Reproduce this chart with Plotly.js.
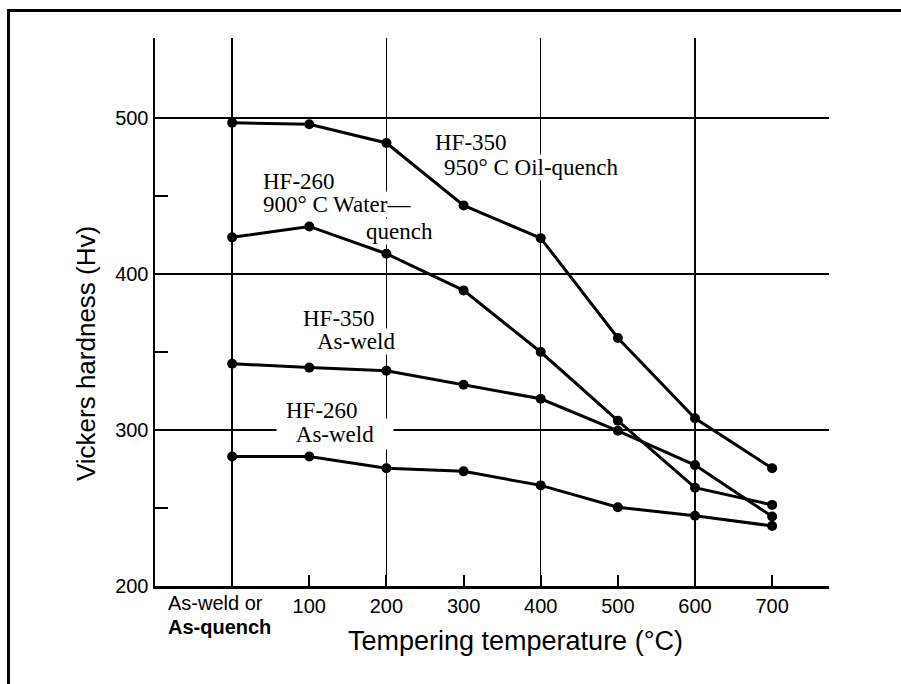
<!DOCTYPE html>
<html><head><meta charset="utf-8">
<script src="https://cdn.plot.ly/plotly-3.0.1.min.js"></script>
<style>
body{margin:0;background:#fff;overflow:hidden}
#chart{width:901px;height:684px}
#frame{position:absolute;left:7px;top:9px;width:1000px;height:1000px;border-top:3px solid #000;border-left:3px solid #000;pointer-events:none}
</style>
</head><body><div id="chart"></div><div id="frame"></div>
<script>
// Tempering temperature (°C); 0 = as-weld / as-quench
const temps = [0, 100, 200, 300, 400, 500, 600, 700];
const tickTemps = [100, 200, 300, 400, 500, 600, 700];
const tickLabels = ['100', '200', '300', '400', '500', '600', '700'];
const gridTemps = [0, 200, 400, 600];
const hvTicks = [200, 300, 400, 500];
const hvMinor = [250, 350, 450];

// Vickers hardness (Hv)
const hf350Oil   = [497, 496, 484, 444, 423, 359, 307.5, 275.5];
const hf260Water = [423.5, 430.5, 413, 389.5, 350, 306, 263, 252];
const hf350Weld  = [342.5, 340, 338, 329, 320, 299.5, 277.5, 244.5];
const hf260Weld  = [283, 283, 275.5, 273.5, 264.5, 250.5, 245, 238.5];

const seriesNames = ['HF-350 950°C Oil-quench', 'HF-260 900°C Water-quench', 'HF-350 As-weld', 'HF-260 As-weld'];
const seriesData = [hf350Oil, hf260Water, hf350Weld, hf260Weld];

const traces = seriesData.map((ys, i) => ({
  x: temps, y: ys, name: seriesNames[i], type: 'scatter', mode: 'lines+markers',
  line: {color: '#000', width: 3}, marker: {color: '#000', size: 10},
  cliponaxis: false, showlegend: false
}));

const serif = {family: 'Liberation Serif, Times New Roman, serif', size: 23, color: '#000'};
const sans = 'Liberation Sans, Arial, sans-serif';

function lbl(text, x, y, extra) {
  return Object.assign({text: text, x: x, y: y, xref: 'x', yref: 'y', xanchor: 'left', yanchor: 'middle',
    showarrow: false, font: serif, bgcolor: '#fff', borderpad: 0}, extra || {});
}

const annotations = [
  lbl('HF-350', 262, 484),
  lbl('950° C Oil-quench', 273.5, 468),
  lbl('HF-260', 39, 459.5),
  lbl('900° C Water—', 39, 444.8),
  lbl('quench', 172.4, 427.4),
  lbl('HF-350', 90.7, 371.5),
  lbl('As-weld', 108.9, 356.7),
  lbl('HF-260', 68.7, 312.4),
  lbl('As-weld', 133.5, 297.6, {xanchor: 'center', width: 116, height: 30}),
  {text: 'As-weld or', xref: 'paper', yref: 'paper', x: 0.0163, y: -0.031, xanchor: 'left', yanchor: 'middle',
   showarrow: false, font: {family: sans, size: 20, color: '#000'}},
  {text: '<b>As-quench</b>', xref: 'paper', yref: 'paper', x: 0.0163, y: -0.075, xanchor: 'left', yanchor: 'middle',
   showarrow: false, font: {family: sans, size: 20, color: '#000'}},
  {text: 'Tempering temperature (°C)', xref: 'paper', yref: 'paper', x: 0.535, y: -0.1004, xanchor: 'center', yanchor: 'middle',
   showarrow: false, font: {family: sans, size: 27, color: '#000'}},
  {text: 'Vickers hardness (Hv)', xref: 'paper', yref: 'paper', x: -0.1024, y: 0.425, xanchor: 'center', yanchor: 'middle',
   textangle: -90, showarrow: false, font: {family: sans, size: 26, color: '#000'}}
];

const layout = {
  width: 901, height: 684,
  margin: {l: 155, r: 72, t: 38, b: 98},
  paper_bgcolor: '#fff', plot_bgcolor: '#fff',
  showlegend: false,
  xaxis: {
    range: [-100, 773.7], tickmode: 'array', tickvals: tickTemps, ticktext: tickLabels,
    ticks: 'inside', ticklen: 11, tickwidth: 2, tickcolor: '#000',
    showgrid: false, zeroline: false, showline: true, linecolor: '#000', linewidth: 3,
    tickfont: {family: sans, size: 20, color: '#000'},
    minor: {tickmode: 'array', tickvals: gridTemps, showgrid: true, gridcolor: '#000', gridwidth: 1.5, ticks: ''},
    fixedrange: true
  },
  yaxis: {
    range: [200, 551.3], tickmode: 'array', tickvals: hvTicks,
    ticks: '', showgrid: true, gridcolor: '#000', gridwidth: 1.5,
    zeroline: false, showline: true, linecolor: '#000', linewidth: 2.5,
    tickfont: {family: sans, size: 20, color: '#000'},
    minor: {tickmode: 'array', tickvals: hvMinor, ticks: 'inside', ticklen: 13, tickwidth: 2, tickcolor: '#000', showgrid: false},
    fixedrange: true
  },
  annotations: annotations
};

Plotly.newPlot('chart', traces, layout, {staticPlot: true, displayModeBar: false});
</script>
</body></html>
